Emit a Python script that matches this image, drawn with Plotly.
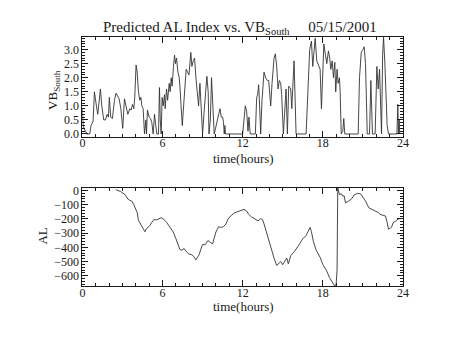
import plotly.graph_objects as go

# Southward IMF component VB_South (mV/m) vs. time (hours), 2001-05-15
vb_hours = [0.0, 0.05, 0.12, 0.25, 0.35, 0.55, 0.65, 0.8, 0.9, 1.05, 1.15, 1.35, 1.45, 1.6, 1.72, 1.85,
            1.95, 2.02, 2.12, 2.25, 2.4, 2.52, 2.65, 2.75, 2.88, 3.02, 3.15, 3.28, 3.4, 3.55, 3.65, 3.75,
            3.85, 3.92, 4.02, 4.1, 4.2, 4.3, 4.38, 4.45, 4.55, 4.65, 4.75, 4.8, 4.87, 5.0, 5.1, 5.2,
            5.3, 5.4, 5.5, 5.57, 5.7, 5.77, 5.83, 5.9, 5.97, 6.05, 6.15, 6.2, 6.3, 6.38, 6.5, 6.57,
            6.65, 6.72, 6.82, 6.9, 6.97, 7.05, 7.15, 7.25, 7.3, 7.38, 7.48, 7.58, 7.65, 7.77, 7.87, 7.98,
            8.12, 8.2, 8.3, 8.4, 8.5, 8.6, 8.7, 8.8, 8.9, 9.0, 9.1, 9.22, 9.32, 9.42, 9.48, 9.58,
            9.67, 9.77, 9.87, 9.97, 10.08, 10.2, 10.3, 10.4, 10.5, 10.57, 10.62, 10.67, 10.72, 12.0, 12.2, 12.3,
            12.4, 12.47, 12.57, 12.95, 13.05, 13.12, 13.2, 13.27, 13.35, 13.45, 13.6, 13.72, 13.85, 13.95, 14.1, 14.2,
            14.35, 14.45, 14.55, 14.65, 14.75, 14.85, 14.92, 15.05, 15.15, 15.25, 15.35, 15.45, 15.6, 15.68, 15.85, 16.0,
            16.75, 16.9, 17.02, 17.15, 17.25, 17.32, 17.43, 17.55, 17.7, 17.8, 17.9, 18.08, 18.2, 18.3, 18.42, 18.52,
            18.6, 18.7, 18.8, 18.9, 18.97, 19.07, 19.15, 19.25, 19.3, 19.38, 19.5, 19.57, 19.65, 20.65, 20.75, 20.88,
            21.0, 21.1, 21.2, 21.33, 21.5, 21.6, 21.72, 21.92, 22.05, 22.15, 22.25, 22.33, 22.4, 22.48, 22.55, 22.65,
            22.75, 22.82, 22.92, 23.55, 23.62, 23.67, 23.72, 23.76]
vb_south = [0.9, 0.3, 0.2, 0.05, 0.0, 0.0, 0.3, 0.45, 1.5, 1.0, 0.7, 1.6, 1.0, 0.5, 0.5, 0.7,
            0.6, 1.3, 0.6, 0.55, 1.2, 1.45, 1.3, 1.25, 0.9, 0.2, 1.25, 1.0, 0.7, 0.9, 0.85, 1.05,
            0.9, 1.3, 2.45, 2.2, 1.5, 1.2, 1.3, 1.0, 0.9, 0.0, 0.5, 0.0, 0.85, 0.6, 0.55, 0.4,
            0.0, 0.7, 0.3, 0.0, 0.0, 1.65, 0.5, 0.0, 1.3, 1.0, 1.4, 0.9, 1.6, 1.2, 1.8, 1.5,
            2.0, 1.7, 2.4, 2.8, 2.5, 2.7, 2.2, 2.0, 1.7, 1.2, 0.3, 1.0, 1.5, 2.3, 2.2, 2.1,
            2.9, 2.4, 2.6, 2.7, 2.0, 1.5, 1.0, 1.8, 0.8, 0.0, 0.7, 1.5, 2.05, 1.5, 0.0, 0.5,
            2.0, 1.0, 0.0, 0.2, 0.4, 0.7, 0.9, 0.6, 0.6, 0.4, 0.0, 0.3, 0.0, 0.0, 1.0, 0.8,
            0.1, 0.6, 0.0, 0.0, 1.3, 1.4, 1.75, 1.0, 0.0, 1.2, 2.2, 2.0, 1.9, 1.9, 1.0, 1.8,
            2.7, 2.85, 2.4, 1.6, 1.9, 1.8, 1.4, 0.0, 0.8, 1.6, 0.0, 1.7, 1.6, 0.9, 2.6, 0.0,
            0.0, 1.5, 3.0, 3.3, 2.4, 2.8, 3.4, 2.6, 2.4, 2.3, 0.9, 3.2, 2.8, 2.5, 2.95, 2.7,
            2.3, 2.6, 2.0, 2.55, 1.5, 2.3, 1.8, 2.0, 1.5, 0.0, 0.1, 0.55, 0.0, 0.0, 2.0, 2.9,
            3.0, 3.1, 2.5, 0.0, 0.0, 1.9, 0.0, 0.0, 2.4, 1.6, 2.3, 1.2, 0.0, 2.8, 3.45, 2.5,
            1.2, 0.3, 0.0, 0.0, 1.05, 0.0, 0.5, 0.0]

# Predicted AL index (nT) vs. time (hours)
al_hours = [2.5, 2.85, 3.2, 3.4, 3.55, 3.7, 3.85, 3.95, 4.1, 4.2, 4.35, 4.45, 4.6, 4.68, 4.8, 5.05,
            5.2, 5.35, 5.55, 5.75, 5.9, 6.1, 6.3, 6.55, 6.8, 7.0, 7.15, 7.3, 7.45, 7.62, 7.8, 8.0,
            8.2, 8.35, 8.5, 8.6, 8.75, 8.85, 9.0, 9.2, 9.4, 9.6, 9.75, 9.88, 10.0, 10.2, 10.35, 10.55,
            10.75, 10.9, 11.15, 11.4, 11.65, 11.9, 12.1, 12.3, 12.45, 12.65, 12.8, 13.0, 13.15, 13.35, 13.5, 13.6,
            13.85, 14.1, 14.35, 14.55, 14.7, 14.85, 15.0, 15.15, 15.3, 15.42, 15.6, 15.85, 16.05, 16.2, 16.35, 16.5,
            16.75, 16.9, 17.05, 17.15, 17.3, 17.5, 17.8, 18.0, 18.3, 18.5, 18.7, 18.9, 19.0, 19.07, 19.12, 19.25,
            19.38, 19.5, 19.6, 19.7, 19.85, 20.0, 20.15, 20.35, 20.6, 20.85, 21.1, 21.2, 21.45, 21.7, 21.95, 22.15,
            22.3, 22.5, 22.7, 22.82, 22.92, 23.05, 23.15, 23.28, 23.42, 23.65, 23.9]
al_index = [5, -7, -30, -60, -70, -75, -100, -120, -155, -210, -235, -258, -285, -290, -268, -247,
            -224, -205, -207, -198, -192, -203, -224, -258, -292, -338, -384, -415, -420, -408, -432, -448,
            -452, -465, -488, -475, -450, -418, -380, -381, -352, -367, -375, -330, -292, -255, -260, -255,
            -236, -202, -175, -157, -150, -138, -133, -145, -168, -185, -192, -207, -214, -198, -207, -235,
            -315, -407, -475, -527, -510, -500, -522, -493, -475, -515, -458, -432, -408, -385, -362, -340,
            -316, -282, -260, -290, -360, -418, -470, -520, -567, -612, -647, -673, -658, -560, 20, -30,
            -23, -40, -38, -87, -80, -70, -60, -32, -20, -25, -55, -75, -122, -133, -145, -155,
            -168, -174, -180, -225, -272, -265, -258, -225, -218, -200, -197]

x_ticks = [0, 6, 12, 18, 24]
vb_ticks = [0.0, 0.5, 1.0, 1.5, 2.0, 2.5, 3.0]
al_ticks = [0, -100, -200, -300, -400, -500, -600]

W, H = 454, 341
FONT = "Liberation Serif"
INK = "#1a1a1a"
LINE = "#333333"

fig = go.Figure()
fig.add_trace(go.Scatter(x=vb_hours, y=vb_south, mode="lines",
                         line=dict(color=LINE, width=0.9), xaxis="x", yaxis="y"))
fig.add_trace(go.Scatter(x=al_hours, y=al_index, mode="lines",
                         line=dict(color=LINE, width=0.9), xaxis="x2", yaxis="y2"))

def px_x(p):
    return p / W

def px_y(p):
    return 1 - p / H

common_x = dict(range=[0, 24], tickmode="array", tickvals=x_ticks,
                ticktext=[str(v) for v in x_ticks], ticks="inside", ticklen=6,
                tickcolor=INK, showline=True, linecolor=INK, linewidth=1, mirror="allticks",
                showgrid=False, zeroline=False, ticklabelstandoff=-5,
                minor=dict(dtick=1, ticks="inside", ticklen=3, tickcolor=INK, showgrid=False),
                tickfont=dict(family=FONT, size=12, color=INK))
common_y = dict(ticks="inside", ticklen=6, tickcolor=INK, showline=True, linecolor=INK,
                linewidth=1, mirror="allticks", showgrid=False, zeroline=False,
                tickfont=dict(family=FONT, size=12, color=INK))

fig.update_layout(
    width=W, height=H, margin=dict(l=0, r=0, t=0, b=0),
    paper_bgcolor="white", plot_bgcolor="white", showlegend=False,
    xaxis=dict(domain=[px_x(81), px_x(408)], anchor="y", **common_x),
    yaxis=dict(domain=[px_y(136), px_y(34)], anchor="x", range=[-0.1, 3.44],
               tickmode="array", tickvals=vb_ticks, ticktext=[f"{v:.1f}" for v in vb_ticks],
               minor=dict(dtick=0.1, tick0=0, ticks="inside", ticklen=3, tickcolor=INK, showgrid=False),
               **common_y),
    xaxis2=dict(domain=[px_x(81), px_x(408)], anchor="y2", **common_x),
    yaxis2=dict(domain=[px_y(289), px_y(188)], anchor="x2", range=[-673, 20],
                tickmode="array", tickvals=al_ticks, ticktext=[str(v).replace("-", "\u2212") for v in al_ticks],
                minor=dict(dtick=20, tick0=0, ticks="inside", ticklen=3, tickcolor=INK, showgrid=False),
                **common_y),
)

label_font = dict(family=FONT, size=13, color=INK)
fig.add_annotation(text="Predicted AL Index vs. VB<sub>South</sub>     05/15/2001",
                   xref="paper", yref="paper", x=px_x(242), y=px_y(25),
                   xanchor="center", yanchor="middle", showarrow=False,
                   font=dict(family=FONT, size=15, color=INK))
fig.add_annotation(text="time(hours)", xref="paper", yref="paper", x=px_x(245), y=px_y(158),
                   xanchor="center", yanchor="middle", showarrow=False, font=label_font)
fig.add_annotation(text="time(hours)", xref="paper", yref="paper", x=px_x(245), y=px_y(310),
                   xanchor="center", yanchor="middle", showarrow=False, font=label_font)
fig.add_annotation(text="VB<sub>South</sub>", xref="paper", yref="paper", x=px_x(52), y=px_y(88),
                   xanchor="center", yanchor="middle", textangle=-90, showarrow=False, font=label_font)
fig.add_annotation(text="AL", xref="paper", yref="paper", x=px_x(40), y=px_y(238),
                   xanchor="center", yanchor="middle", textangle=-90, showarrow=False, font=label_font)

fig.write_html("out.html")
